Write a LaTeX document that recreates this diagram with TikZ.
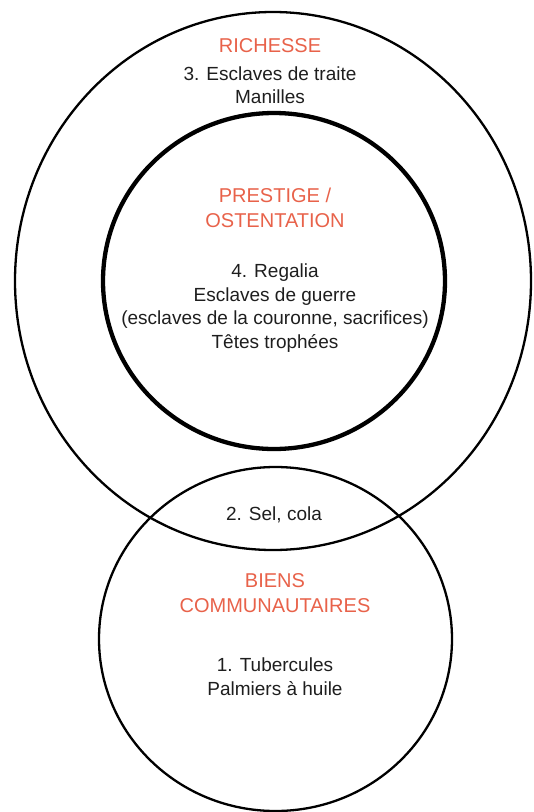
\documentclass[tikz,border=0pt]{standalone}
\usepackage{fontspec}
\setmainfont{Liberation Sans}
\usetikzlibrary{shapes.geometric}
\definecolor{titleorange}{RGB}{232,98,74}
\definecolor{textdark}{RGB}{30,30,30}
\tikzset{
  ring/.style={ellipse, draw=black, inner sep=0pt, outer sep=0pt},
  titletext/.style={text=titleorange, align=center, font=\fontsize{20}{25}\selectfont, inner sep=0pt},
  itemtext/.style={text=textdark, align=center, font=\fontsize{19}{23.5}\selectfont, inner sep=0pt}
}
\begin{document}
\begin{tikzpicture}[x=1pt,y=-1pt]
\useasboundingbox (0,0) rectangle (534,812);
\node[ring, line width=2.3pt, minimum width=516pt, minimum height=538pt] (richesse) at (273,281) {};
\node[ring, line width=4.3pt, minimum width=342pt, minimum height=336pt] (prestige) at (274,281) {};
\node[ring, line width=2.3pt, minimum width=353pt, minimum height=344pt] (biens) at (275.5,639) {};
\node[titletext] (t1) at (270,46) {RICHESSE};
\node[itemtext] (i3) at (270,85) {3. Esclaves de traite\\Manilles};
\node[titletext] (t2) at (275,207.5) {PRESTIGE /\\OSTENTATION};
\node[itemtext] (i4) at (275,308) {4. Regalia\\Esclaves de guerre\\(esclaves de la couronne, sacrifices)\\Têtes trophées};
\node[itemtext] (i2) at (274,515) {2. Sel, cola};
\node[titletext] (t3) at (275,593.5) {BIENS\\COMMUNAUTAIRES};
\node[itemtext] (i1) at (275,676.5) {1. Tubercules\\Palmiers à huile};
\end{tikzpicture}
\end{document}
